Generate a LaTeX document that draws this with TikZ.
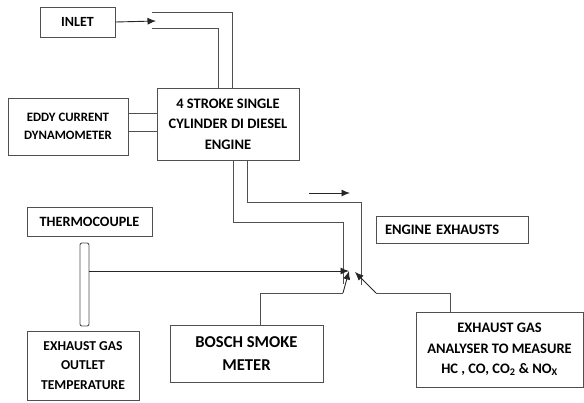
\documentclass[tikz,border=0pt]{standalone}
\usepackage{fontspec}
\setmainfont{Carlito}
\usetikzlibrary{arrows.meta}
\definecolor{ln}{HTML}{505050}
\tikzset{
  box/.style={draw=ln, line width=0.9pt, rectangle, inner sep=0pt, align=center, font=\bfseries\fontsize{14.5}{20.5}\selectfont},
  pipe/.style={draw=ln, line width=0.9pt},
  arr/.style={draw=black!85, line width=0.9pt, -{Latex[length=8.5pt,width=7pt]}},
}
\begin{document}
\begin{tikzpicture}[x=1pt,y=-1pt]
\useasboundingbox (0,0) rectangle (584,402);
% boxes
\node[box, minimum width=75pt, minimum height=30pt, font=\bfseries\fontsize{14}{17}\selectfont] (inlet) at (77.5,22) {INLET};
\node[box, minimum width=142pt, minimum height=72pt] (engine) at (228,124) {4 STROKE SINGLE\\CYLINDER DI DIESEL\\ENGINE};
\node[box, minimum width=120pt, minimum height=57pt, font=\bfseries\fontsize{12.8}{18}\selectfont] (eddy) at (68,126.5) {EDDY CURRENT\\DYNAMOMETER};
\node[box, minimum width=152pt, minimum height=27pt, text width=134pt, inner xsep=9pt, align=left] (exh) at (452,229.5) {ENGINE EXHAUSTS};
\node[box, minimum width=125pt, minimum height=29pt, font=\bfseries\fontsize{14.2}{17}\selectfont] (thermo) at (89.5,221.5) {THERMOCOUPLE};
\node[draw=ln, line width=0.9pt, rounded corners=2pt, minimum width=9pt, minimum height=83pt, inner sep=0pt] (probe) at (84.5,284.5) {};
\node[box, minimum width=112pt, minimum height=69pt, font=\bfseries\fontsize{13.6}{19.5}\selectfont] (outlet) at (83,365.5) {EXHAUST GAS\\OUTLET\\TEMPERATURE};
\node[box, minimum width=153pt, minimum height=57pt, font=\bfseries\fontsize{16.6}{23}\selectfont] (bosch) at (246.5,353.5) {BOSCH SMOKE\\METER};
\node[box, minimum width=167pt, minimum height=75pt] (anal) at (499.5,349.5) {EXHAUST GAS\\ANALYSER TO MEASURE\\HC , CO, CO\textsubscript{2} \& NO\textsubscript{X}};
% inlet
\coordinate (inA) at (156,21);
\draw[arr] (inlet.east) -- (inA);
\coordinate (ip1) at (152,12);
\coordinate (ip2) at (152,28);
\draw[pipe] (ip1) -- (232,12) -- (232,0 |- engine.north);
\draw[pipe] (ip2) -- (218,28) -- (218,0 |- engine.north);
% shaft
\draw[pipe] (eddy.east |- 0,113) -- (engine.west |- 0,113);
\draw[pipe] (eddy.east |- 0,131) -- (engine.west |- 0,131);
% exhaust pipe
\coordinate (ep1) at (343,284);
\coordinate (ep2) at (361,285);
\draw[pipe] (233,0 |- engine.south) -- (233,222) -- (343,222) -- (ep1);
\draw[pipe] (247,0 |- engine.south) -- (247,202) -- (361,202) -- (ep2);
\coordinate (fa) at (309,193);
\coordinate (fb) at (350,193);
\draw[arr] (fa) -- (fb);
% sensors
\coordinate (tip1) at (349,271);
\coordinate (tip2) at (355,272);
\draw[arr] (probe.east |- 0,271) -- (tip1);
\draw[pipe] (260,0 |- bosch.north) -- (260,293) -- (343,293);
\draw[arr] (343,293) -- (tip1);
\draw[pipe] (450,0 |- anal.north) -- (450,293) -- (376,293);
\draw[arr] (376,293) -- (tip2);
\end{tikzpicture}
\end{document}
